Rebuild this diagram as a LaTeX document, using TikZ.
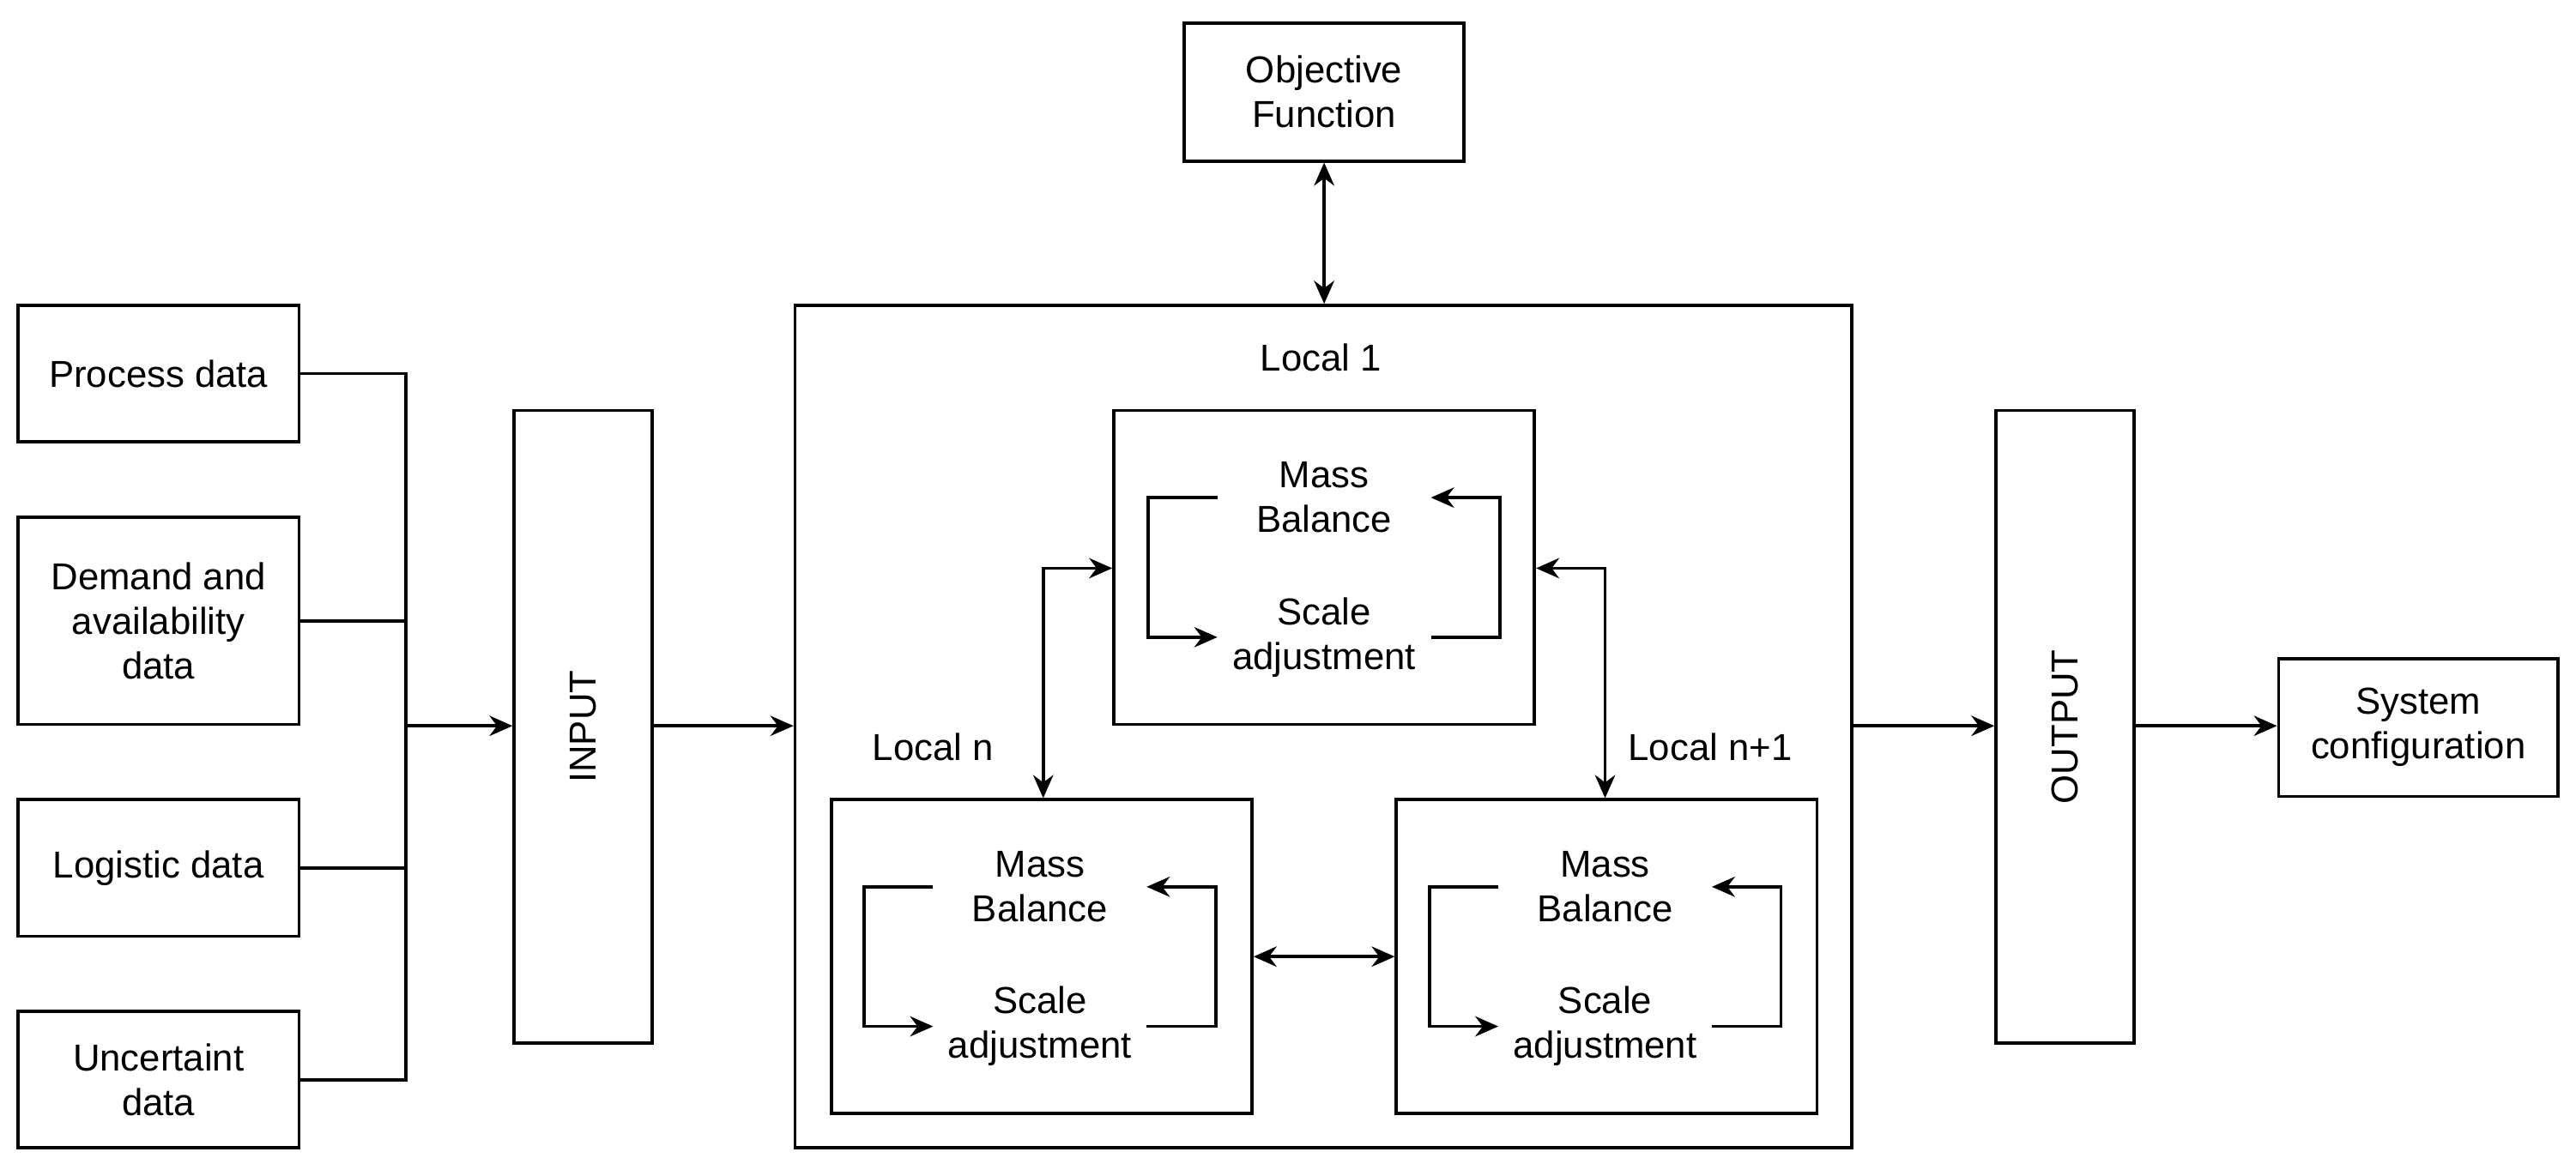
\documentclass[tikz,border=0pt]{standalone}
\usepackage{fontspec}
\setmainfont{Liberation Sans}
\usetikzlibrary{arrows.meta}
\begin{document}
\begin{tikzpicture}[x=0.02cm,y=-0.02cm,
  every node/.style={font=\fontsize{13}{15.5}\selectfont,align=center},
  box/.style={draw,line width=1.1pt,inner sep=0pt},
  ln/.style={line width=1.1pt},
  ar/.style={ln,-{Stealth[length=8pt,width=7pt]}},
  dar/.style={ln,{Stealth[length=8pt,width=7pt]}-{Stealth[length=8pt,width=7pt]}}]
\useasboundingbox (0,0) rectangle (1568,712);
\newcommand\bx[6]{\node[box,minimum width=#4*0.02cm-1.1pt,minimum height=#5*0.02cm-1.1pt] (#1) at (#2,#3) {#6};}
\bx{pd}{96.5}{227.5}{173}{85}{Process data}
\bx{dd}{96.5}{378}{173}{128}{Demand and\\availability\\data}
\bx{ld}{96.5}{528.5}{173}{85}{Logistic data}
\bx{ud}{96.5}{657.5}{173}{85}{Uncertaint\\data}
\bx{in}{355}{442.5}{86}{387}{}
\node[rotate=90] at (in) {INPUT};
\bx{big}{805.5}{442.5}{645}{515}{}
\node (l1) at (804,218) {Local 1};
\bx{obj}{806}{56}{172}{86}{Objective\\Function}
\bx{top}{806}{345.5}{258}{193}{}
\bx{bl}{634}{582.5}{258}{193}{}
\bx{br}{978}{582.5}{258}{193}{}
\node (ln) at (568,455) {Local n};
\node (ln1) at (1041,455) {Local n+1};
\bx{out}{1257}{442.5}{86}{387}{}
\node[rotate=90] at (out) {OUTPUT};
\bx{sys}{1472}{443}{172}{86}{System\\configuration}
% bus
\coordinate (bj) at (247,442);
\draw[ln] (pd.east) -- (247,227.5) -- (247,657.5) -- (ud.east);
\draw[ln] (dd.east) -- (247,378);
\draw[ln] (ld.east) -- (247,528.5);
\draw[ar] (bj) -- (in.west|-bj);
\draw[ar] (in.east|-bj) -- (big.west|-bj);
\draw[ar] (big.east|-bj) -- (out.west|-bj);
\draw[ar] (out.east|-bj) -- (sys.west|-bj);
\draw[dar] (obj.south) -- (big.north-|obj.south);
% loops
\newcommand\loopbox[3]{%
 \node (#1m) at (#2,#3-42) {Mass\\Balance};
 \node (#1s) at (#2,#3+43) {Scale\\adjustment};
 \coordinate (#1a) at (#2-65,#3-42); \coordinate (#1b) at (#2-107,#3-42);
 \coordinate (#1c) at (#2-107,#3+43); \coordinate (#1d) at (#2-65,#3+43);
 \coordinate (#1e) at (#2+65,#3+43); \coordinate (#1f) at (#2+107,#3+43);
 \coordinate (#1g) at (#2+107,#3-42); \coordinate (#1h) at (#2+65,#3-42);
 \draw[ar] (#1a) -- (#1b) -- (#1c) -- (#1d);
 \draw[ar] (#1e) -- (#1f) -- (#1g) -- (#1h);}
\loopbox{t}{806}{345}
\loopbox{l}{633}{582}
\loopbox{r}{977}{582}
\coordinate (c1) at (635,346);
\coordinate (c2) at (977,346);
\draw[dar] (bl.north-|c1) -- (c1) -- (top.west|-c1);
\draw[dar] (top.east|-c2) -- (c2) -- (br.north-|c2);
\draw[dar] (bl.east) -- (br.west);
\end{tikzpicture}
\end{document}
